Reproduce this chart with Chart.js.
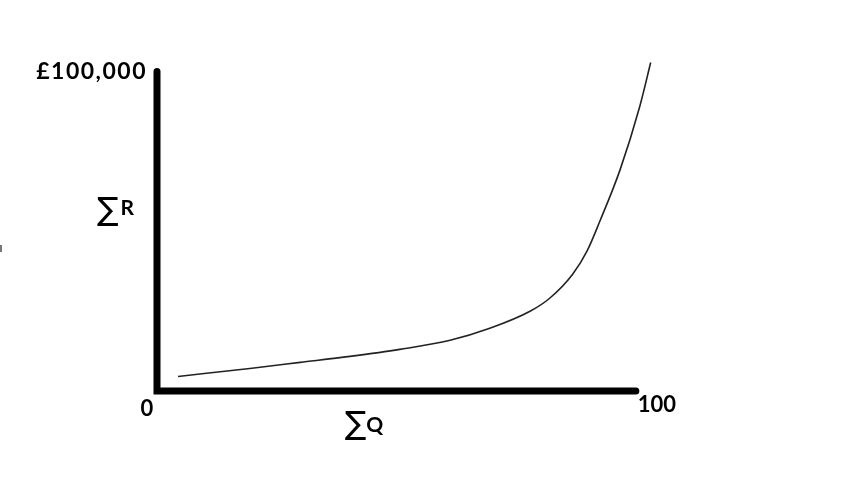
<!DOCTYPE html>
<html lang="en">
<head>
  <meta charset="UTF-8">
  <title>Revenue curve</title>
  <script src="https://cdn.jsdelivr.net/npm/chart.js"></script>
  <style>
    html, body { margin: 0; padding: 0; background: #fff; }
    #wrap { width: 843px; height: 491px; }
  </style>
</head>
<body>
  <div id="wrap"><canvas id="grafica"></canvas></div>

  <script>
    // cumulative quantity (x) and cumulative revenue (y)
    const qValues = [4.4, 19.4, 29.9, 40.3, 50.7, 61.2, 69.5, 77.9, 82.0, 86.8, 89.8, 92.5, 96.7, 100.8, 103.1];
    const rValues = [4550, 7060, 8950, 10830, 13030, 15860, 19620, 24960, 29040, 36580, 43800, 53220, 69230, 89010, 102830];

    const xTicks = ['0', '100'];
    const yTopLabel = '£100,000';
    const xTitle = 'Q';
    const yTitle = 'R';

    // axis lines run 0..100 and 0..100,000; the curve overshoots a little
    const xMin = 0, xEnd = 100, xMax = 104;
    const yMin = 0, yEnd = 100000, yMax = 103000;

    const puntos = qValues.map((q, i) => ({ x: q, y: rValues[i] }));

    // axes and labels drawn from the scales
    const ejes = {
      id: 'ejes',
      afterDraw(chart) {
        const ctx = chart.ctx;
        const sx = chart.scales.x;
        const sy = chart.scales.y;
        const x0 = sx.getPixelForValue(xMin);
        const x1 = sx.getPixelForValue(xEnd);
        const y0 = sy.getPixelForValue(yMin);
        const y1 = sy.getPixelForValue(yEnd);

        ctx.save();
        ctx.strokeStyle = '#000';
        ctx.lineWidth = 7;
        ctx.lineCap = 'round';
        ctx.beginPath();
        ctx.moveTo(x0, y1);
        ctx.lineTo(x0, y0);
        ctx.lineTo(x1, y0);
        ctx.stroke();

        ctx.fillStyle = '#000';
        ctx.textBaseline = 'alphabetic';

        ctx.font = 'bold 23px Lato';
        ctx.letterSpacing = '1.5px';
        ctx.textAlign = 'right';
        ctx.fillText(yTopLabel, x0 - 10, y1 + 7);
        ctx.letterSpacing = '0px';

        ctx.font = 'bold 22px Lato';
        ctx.textAlign = 'center';
        ctx.fillText(xTicks[0], x0 - 10, y0 + 25);

        ctx.textAlign = 'left';
        ctx.fillText(xTicks[1], x1 + 2, y0 + 21);

        // axis titles: sigma + letter
        const sigma = (xs, base, letter, drop, gap) => {
          ctx.font = '32px "DejaVu Sans"';
          ctx.textAlign = 'left';
          ctx.fillText('\u2211', xs, base + drop);
          const w = ctx.measureText('\u2211').width;
          ctx.font = 'bold 21px Lato';
          ctx.fillText(letter, xs + w + gap, base);
        };
        sigma(97, sy.getPixelForValue(55000), yTitle, 5, 2);
        sigma(sx.getPixelForValue(39.2), y0 + 41, xTitle, 2, 0);

        ctx.fillStyle = '#777';
        ctx.fillRect(0, 245, 2, 7);
        ctx.restore();
      }
    };

    const grafica = new Chart(document.getElementById('grafica'), {
      type: 'line',
      data: {
        datasets: [{
          data: puntos,
          borderColor: '#222',
          borderWidth: 1.6,
          pointRadius: 0,
          fill: false,
          cubicInterpolationMode: 'monotone',
          clip: false
        }]
      },
      options: {
        responsive: true,
        maintainAspectRatio: false,
        animation: false,
        layout: { padding: { left: 157, top: 62, right: 188, bottom: 100 } },
        plugins: { legend: { display: false }, tooltip: { enabled: false } },
        scales: {
          x: {
            type: 'linear', min: xMin, max: xMax,
            ticks: { display: false },
            grid: { display: false, drawTicks: false },
            border: { display: false },
            afterFit: (s) => { s.height = 0; }
          },
          y: {
            type: 'linear', min: yMin, max: yMax,
            ticks: { display: false },
            grid: { display: false, drawTicks: false },
            border: { display: false },
            afterFit: (s) => { s.width = 0; }
          }
        }
      },
      plugins: [ejes]
    });
  </script>
</body>
</html>
